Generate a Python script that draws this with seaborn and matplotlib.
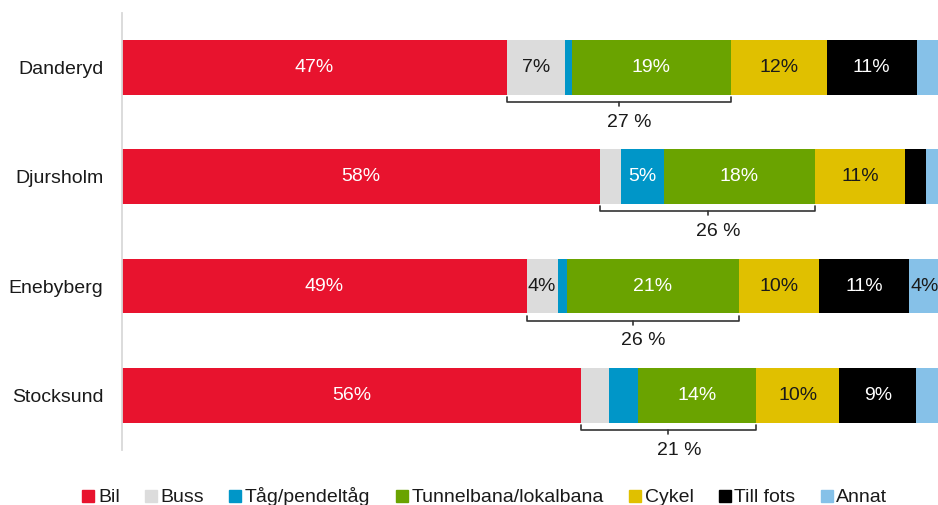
import matplotlib
matplotlib.use('Agg')
import matplotlib.pyplot as plt
import numpy as np
import seaborn as sns
from matplotlib.lines import Line2D

# data (andel resor, %)
places = ['Danderyd', 'Djursholm', 'Enebyberg', 'Stocksund']
modes = ['Bil', 'Buss', 'Tåg/pendeltåg', 'Tunnelbana/lokalbana', 'Cykel', 'Till fots', 'Annat']
bil = [47.0, 58.4, 49.4, 56.0]
buss = [7.1, 2.5, 3.8, 3.5]
tag = [0.85, 5.3, 1.1, 3.5]
tunnel = [19.4, 18.4, 21.0, 14.4]
cykel = [11.7, 11.0, 9.8, 10.2]
till_fots = [11.0, 2.6, 11.0, 9.4]
annat = [3.0, 1.8, 3.9, 3.0]

colors = ['#e8132e', '#dcdcdc', '#0096c8', '#6aa300', '#e0c000', '#000000', '#86c1e8']
text_colors = ['white', '#1a1a1a', 'white', 'white', '#1a1a1a', 'white', '#1a1a1a']

sns.set_style('white')
plt.rcParams['font.family'] = ['Liberation Sans', 'DejaVu Sans']

vals = np.array([bil, buss, tag, tunnel, cykel, till_fots, annat])
cum = vals.cumsum(axis=0)

fig = plt.figure(figsize=(9.38, 5.05), dpi=100)
ax = fig.add_axes([0.1301, 0.1089, 0.8731, 0.866])

# stacked bars: draw cumulative totals from outermost to innermost
for i in reversed(range(len(modes))):
    sns.barplot(x=cum[i], y=places, color=colors[i], orient='h', width=0.5,
                saturation=1, linewidth=0, ax=ax)

ax.set_xlim(0, 100)
ax.set_ylim(3.5, -0.5)
ax.set_xlabel('')
ax.set_ylabel('')
ax.set_xticks([])
ax.tick_params(axis='y', length=0, pad=13.5, labelsize=14, labelcolor='#1a1a1a')
for s in ['top', 'right', 'bottom']:
    ax.spines[s].set_visible(False)
ax.spines['left'].set_color('#d9d9d9')
ax.spines['left'].set_linewidth(1.3)

# segment labels
for i in range(len(modes)):
    for j in range(len(places)):
        v = vals[i, j]
        if v >= 3.7:
            xc = cum[i, j] - v / 2
            ax.text(xc, j, f'{round(v)}%', ha='center', va='center',
                    fontsize=14, color=text_colors[i])

# brackets for kollektivtrafik (buss + tåg + tunnelbana)
for j in range(len(places)):
    x0 = cum[0, j]
    x1 = cum[3, j]
    tot = vals[1, j] + vals[2, j] + vals[3, j]
    yl = j + 0.316
    ax.plot([x0, x0, x1, x1], [j + 0.27, yl, yl, j + 0.27], color='#333333', lw=1.2, clip_on=False)
    xm = (x0 + x1) / 2
    ax.plot([xm, xm], [yl, j + 0.355], color='#333333', lw=1.2, clip_on=False)
    ax.text(xm + 1.3, j + 0.502, f'{round(tot)} %', ha='center', va='center',
            fontsize=14, color='#1a1a1a')

handles = [Line2D([], [], marker='s', linestyle='', markersize=8, color=c) for c in colors]
fig.legend(handles, modes, loc='center', bbox_to_anchor=(0.517, 0.016), ncol=7,
           frameon=False, fontsize=14, handlelength=0.6, handletextpad=0.2,
           columnspacing=1.3, labelcolor='#1a1a1a')

fig.savefig('out.png', dpi=100)
